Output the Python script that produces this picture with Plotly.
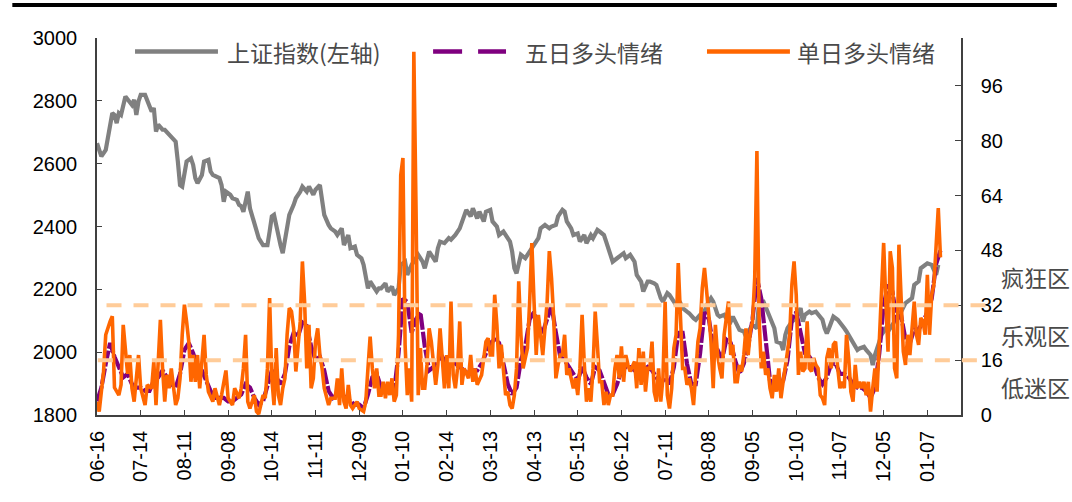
import plotly.graph_objects as go

# ---------------- data ----------------
# x-axis labels (one label every 20 trading days) and their trading-day index
tick_labels = ["06-16", "07-14", "08-11", "09-08", "10-14", "11-11", "12-09", "01-10",
               "02-14", "03-13", "04-13", "05-15", "06-12", "07-11", "08-08", "09-05",
               "10-10", "11-07", "12-05", "01-07"]
tick_days = [0, 20, 40, 60, 80, 100, 120, 140, 160, 180, 200, 220, 240, 260, 280, 300,
             320, 340, 360, 380]

# 上证指数 (left axis): trading-day index, close
index_day = [0, 2, 4, 5, 6, 7, 8, 9, 10, 11, 13, 14, 16, 17, 18, 19, 20, 22, 23, 25, 26, 27, 28,
             30, 31, 33, 34, 36, 37, 38, 39, 40, 41, 43, 44, 45, 46, 48, 49, 51, 52, 53, 56, 57,
             58, 59, 61, 62, 64, 65, 66, 67, 68, 69, 70, 71, 72, 73, 74, 76, 78, 79, 80, 81, 82,
             83, 84, 85, 86, 87, 88, 90, 91, 93, 94, 96, 97, 99, 100, 102, 103, 104, 106, 107,
             109, 110, 112, 113, 115, 116, 118, 119, 121, 122, 124, 125, 126, 128, 129, 130, 132,
             133, 135, 136, 138, 139, 141, 142, 144, 145, 147, 149, 150, 152, 153, 155, 156, 157,
             159, 161, 162, 164, 166, 168, 169, 171, 172, 174, 175, 177, 178, 180, 181, 183, 184,
             186, 187, 189, 190, 191, 192, 193, 194, 196, 197, 199, 200, 202, 203, 205, 207, 208,
             210, 211, 213, 214, 215, 217, 218, 220, 221, 223, 224, 226, 227, 229, 230, 232, 233,
             235, 236, 238, 239, 241, 242, 244, 246, 247, 249, 250, 252, 253, 255, 256, 258, 259,
             261, 262, 264, 265, 267, 268, 270, 271, 273, 274, 276, 278, 279, 281, 282, 284, 285,
             287, 288, 290, 291, 293, 294, 296, 297, 299, 300, 302, 303, 305, 307, 308, 310, 311,
             313, 314, 315, 316, 318, 320, 322, 323, 324, 326, 327, 329, 330, 332, 333, 334, 335,
             337, 339, 340, 342, 343, 345, 346, 348, 349, 351, 352, 354, 355, 356, 358, 359, 361,
             362, 364, 365, 367, 368, 370, 371, 373, 374, 376, 377, 379, 380, 382, 384, 385]
index_val = [2665, 2623, 2644, 2681, 2734, 2761, 2755, 2729, 2761, 2755, 2814, 2803, 2787, 2803,
             2755, 2798, 2819, 2819, 2803, 2766, 2777, 2702, 2724, 2708, 2708, 2692, 2686, 2670,
             2607, 2532, 2527, 2575, 2607, 2617, 2596, 2554, 2538, 2564, 2607, 2612, 2575, 2564,
             2554, 2532, 2479, 2511, 2501, 2490, 2485, 2469, 2465, 2447, 2479, 2511, 2458, 2432,
             2416, 2384, 2363, 2341, 2341, 2384, 2432, 2437, 2400, 2373, 2340, 2315, 2363, 2405,
             2437, 2469, 2490, 2511, 2527, 2511, 2527, 2501, 2517, 2532, 2485, 2437, 2405, 2394,
             2384, 2373, 2394, 2341, 2373, 2331, 2336, 2310, 2299, 2278, 2203, 2225, 2214, 2193,
             2203, 2203, 2219, 2193, 2209, 2182, 2203, 2278, 2288, 2246, 2278, 2288, 2310, 2288,
             2267, 2320, 2310, 2288, 2331, 2352, 2347, 2363, 2358, 2373, 2394, 2437, 2453, 2432,
             2458, 2426, 2447, 2416, 2447, 2453, 2416, 2400, 2373, 2384, 2373, 2352, 2320, 2267,
             2251, 2288, 2310, 2299, 2310, 2331, 2341, 2363, 2394, 2405, 2394, 2400, 2405, 2432,
             2453, 2447, 2416, 2394, 2373, 2378, 2352, 2373, 2347, 2373, 2363, 2389, 2384, 2373,
             2352, 2310, 2288, 2299, 2304, 2315, 2299, 2310, 2288, 2246, 2225, 2193, 2225, 2225,
             2219, 2214, 2172, 2161, 2188, 2182, 2161, 2150, 2156, 2140, 2129, 2124, 2108, 2103,
             2119, 2129, 2150, 2172, 2161, 2119, 2113, 2119, 2108, 2097, 2113, 2087, 2071, 2066,
             2049, 2076, 2087, 2076, 2161, 2161, 2129, 2108, 2076, 2033, 2028, 2007, 2055, 2076,
             2097, 2108, 2140, 2097, 2119, 2129, 2124, 2129, 2119, 2103, 2076, 2060, 2076, 2113,
             2103, 2092, 2076, 2066, 2044, 2033, 2007, 2012, 2017, 2007, 1991, 1959, 1991, 2033,
             2055, 2076, 2066, 2087, 2097, 2119, 2129, 2156, 2161, 2172, 2214, 2225, 2267, 2278,
             2283, 2278, 2246, 2278]

# 五日多头情绪 (right axis)
five_day = [0, 2, 4, 6, 8, 10, 12, 14, 16, 18, 20, 22, 24, 26, 28, 30, 32, 34, 36, 38, 40, 42, 44,
            46, 48, 50, 52, 54, 56, 58, 60, 62, 64, 66, 68, 70, 72, 74, 76, 78, 80, 82, 84, 86,
            88, 90, 92, 94, 96, 98, 100, 102, 104, 106, 108, 110, 112, 114, 116, 118, 120, 122,
            124, 126, 128, 130, 132, 134, 136, 138, 140, 142, 144, 146, 148, 150, 152, 154, 156,
            158, 160, 162, 164, 166, 168, 170, 172, 174, 176, 178, 180, 182, 184, 186, 188, 190,
            192, 194, 196, 198, 200, 202, 204, 206, 208, 210, 212, 214, 216, 218, 220, 222, 224,
            226, 228, 230, 232, 234, 236, 238, 240, 242, 244, 246, 248, 250, 252, 254, 256, 258,
            260, 262, 264, 266, 268, 270, 272, 274, 276, 278, 280, 282, 284, 286, 288, 290, 292,
            294, 296, 298, 300, 302, 304, 306, 308, 310, 312, 314, 316, 318, 320, 322, 324, 326,
            328, 330, 332, 334, 336, 338, 340, 342, 344, 346, 348, 350, 352, 354, 356, 358, 360,
            362, 364, 366, 368, 370, 372, 374, 376, 378, 380, 382, 384, 386]
five_val = [4, 8, 15, 21, 17, 14, 11, 12, 9, 8, 8, 7, 7, 10, 11, 13, 11, 9, 8, 12, 19, 21, 18, 14,
            13, 10, 7, 5, 5, 5, 4, 4, 5, 6, 9, 8, 5, 3, 4, 8, 13, 11, 9, 12, 20, 24, 23, 27, 26,
            20, 16, 17, 13, 7, 5, 6, 6, 5, 4, 3, 3, 2, 6, 11, 12, 8, 7, 7, 7, 18, 34, 33, 24, 28,
            30, 20, 13, 14, 16, 17, 15, 16, 15, 14, 13, 12, 13, 13, 15, 18, 21, 22, 21, 15, 9, 6,
            8, 16, 20, 28, 30, 26, 24, 28, 32, 24, 17, 16, 14, 12, 10, 14, 11, 9, 14, 13, 9, 6, 6,
            9, 13, 14, 14, 13, 14, 13, 14, 13, 11, 9, 11, 9, 14, 24, 24, 15, 9, 9, 18, 30, 28, 20,
            19, 16, 22, 21, 16, 12, 15, 20, 28, 40, 34, 22, 10, 8, 9, 10, 16, 28, 30, 24, 18, 17,
            15, 11, 9, 11, 15, 15, 12, 12, 11, 9, 8, 8, 7, 5, 8, 18, 32, 38, 36, 28, 29, 22, 21,
            25, 25, 27, 30, 34, 44, 48]

# 单日多头情绪 (right axis)
single_day = [0, 1, 3, 4, 6, 7, 8, 10, 11, 12, 14, 15, 16, 17, 19, 20, 22, 23, 25, 26, 27, 28,
              29, 30, 31, 32, 33, 34, 36, 37, 38, 39, 40, 41, 42, 43, 44, 45, 46, 47, 48, 49, 50,
              51, 53, 54, 56, 57, 59, 60, 62, 63, 65, 66, 67, 68, 69, 70, 72, 73, 74, 76, 77, 78,
              79, 80, 81, 82, 83, 84, 85, 86, 87, 88, 89, 90, 91, 92, 93, 94, 95, 96, 97, 98, 99,
              100, 101, 102, 103, 104, 106, 107, 109, 110, 111, 112, 113, 114, 115, 116, 117, 119,
              120, 122, 123, 124, 125, 126, 127, 128, 129, 130, 131, 132, 133, 134, 135, 136, 137,
              138, 139, 140, 141, 142, 143, 144, 145, 146, 147, 148, 149, 150, 151, 152, 153, 155,
              156, 157, 158, 159, 160, 161, 162, 163, 164, 165, 166, 167, 168, 170, 171, 172, 173,
              174, 176, 177, 178, 179, 180, 181, 182, 183, 184, 185, 186, 187, 188, 189, 190, 191,
              192, 193, 194, 195, 196, 197, 198, 199, 200, 201, 202, 203, 204, 205, 206, 207, 208,
              209, 210, 211, 212, 213, 214, 215, 216, 217, 218, 219, 220, 221, 222, 223, 224, 225,
              226, 227, 228, 229, 230, 231, 232, 233, 234, 235, 236, 237, 238, 239, 240, 241, 242,
              243, 244, 246, 247, 248, 249, 250, 251, 252, 253, 254, 255, 256, 257, 258, 259, 260,
              261, 262, 263, 264, 265, 266, 267, 268, 269, 270, 271, 272, 273, 274, 275, 276, 277,
              278, 279, 280, 281, 282, 283, 284, 285, 286, 287, 288, 289, 290, 291, 292, 293, 294,
              295, 296, 297, 298, 299, 300, 301, 302, 303, 304, 305, 306, 307, 308, 309, 310, 311,
              312, 313, 314, 315, 316, 317, 318, 319, 320, 321, 322, 323, 324, 325, 326, 327, 328,
              329, 330, 331, 332, 333, 334, 335, 336, 337, 338, 339, 340, 341, 342, 343, 344, 345,
              346, 347, 348, 349, 350, 351, 352, 353, 354, 355, 356, 357, 358, 359, 360, 361, 362,
              363, 364, 365, 366, 367, 368, 369, 370, 371, 372, 373, 374, 375, 376, 377, 378, 379,
              380, 381, 382, 383, 384, 385, 386]
single_val = [3.9, 1, 12.7, 23.4, 27.3, 28.8, 8, 5.8, 8.8, 26.3, 12, 17.5, 7.8, 3.9, 17.5, 7.8,
              2.9, 8.8, 7.8, 15.6, 2.9, 18.5, 27.8, 13.6, 3.9, 11.7, 7.8, 13.6, 2.9, 4.9, 10.7,
              23.4, 32.2, 27.3, 21.4, 9.7, 17.5, 9.7, 17.5, 7.8, 15.6, 23.4, 11.7, 6.8, 3.9, 7.8,
              2.9, 5.8, 13, 4.9, 2.9, 7.8, 4.9, 7.8, 13.6, 23.4, 3.9, 1.9, 5.8, 1, 0.3, 5.8, 4.9,
              13.6, 34.1, 10.7, 2.9, 19.5, 5.8, 2.9, 7.8, 10.7, 23.4, 31.2, 30.2, 25.3, 12.7, 20.5,
              27.3, 44.8, 33.1, 13.6, 26.3, 7.8, 10.7, 21.4, 25.3, 17.5, 13.6, 7.8, 2.9, 4.9, 4.9,
              10.7, 2.9, 13.6, 3.9, 1.9, 8.8, 2.9, 1.9, 3.9, 1.9, 1, 3.9, 13.6, 22.9, 13.6, 7.8,
              13.6, 5.8, 5.8, 9.7, 4.9, 9.7, 5.8, 10.7, 3.9, 5.8, 23.4, 70, 75, 20.5, 5.8, 13.6,
              3.9, 106, 60, 5.8, 19.5, 7.8, 7.8, 14.6, 25.3, 21.4, 8.8, 14.6, 25.3, 17.5, 7.8,
              17.5, 7.8, 33.1, 11.7, 7.8, 13.6, 27.3, 8.8, 13.6, 10.7, 17.5, 9.7, 13.6, 8.8, 11.7,
              16.6, 21.4, 22.4, 17.5, 17.5, 35.1, 26.3, 13.6, 20.5, 12.7, 5.8, 6.8, 2.9, 1.9, 5.8,
              13.6, 39, 23.4, 13.6, 16.6, 19.5, 33.1, 50.2, 33.1, 17.5, 29.2, 23.4, 17.5, 25.3,
              33.1, 47.8, 40, 28.3, 10.7, 14.6, 17.5, 17.5, 23.4, 11.7, 13.6, 10.7, 7.8, 10.7, 5.8,
              13.6, 29.2, 15, 3.9, 7.8, 3.9, 13.6, 30.2, 20.5, 9.7, 9.7, 2.9, 6.8, 2.9, 5.8, 5.8,
              13.6, 17.5, 10.7, 20, 9.7, 17.5, 14.6, 12.7, 15.6, 7.8, 19.5, 8.8, 18.5, 6.8, 13.6,
              13.6, 21.4, 6.8, 3.9, 13.6, 3.9, 10.7, 33, 5.8, 1.9, 7.8, 19.5, 23.4, 44.3, 28.3,
              13.6, 13.6, 8.8, 10.7, 7.8, 2.9, 13.6, 21.4, 25.3, 37, 42.9, 37, 29.2, 21.4, 7.8,
              26.3, 17.5, 13.6, 10.7, 23.4, 28.3, 33.1, 17.5, 20.5, 9.7, 9.7, 14.6, 12.7, 17.5,
              25.3, 17.5, 24.4, 27.3, 40, 77, 28.3, 13.6, 18.5, 11.7, 13.6, 7.8, 4.9, 11.7, 6.8,
              13.6, 4.9, 9.7, 13.6, 18.5, 23.4, 38, 44.8, 35, 11.7, 18.5, 12.7, 13.6, 27.3, 13.6,
              12.7, 16.6, 14.6, 13.6, 5.8, 4.9, 2.9, 16.6, 19.5, 13.6, 20.5, 21.4, 13.6, 7.8, 9.7,
              7.8, 23.4, 16.6, 6.8, 3.9, 14.6, 7.8, 9.7, 7.8, 9.7, 5.8, 9.7, 1, 7.8, 13.6, 6.8,
              23.4, 38, 50.2, 33.1, 18.5, 47.8, 42.9, 13.6, 10.7, 49.7, 33.1, 18.5, 14.6, 23.4,
              17.5, 25.3, 33.1, 23.4, 20.5, 28.3, 27.3, 23.4, 40.9, 23.4, 35.1, 38, 50.7, 60.4, 46]

zone_levels = [32, 16]
zone_names = ["疯狂区", "乐观区", "低迷区"]
zone_label_y = [40.4, 23.3, 8.3]
series_names = ["上证指数(左轴)", "五日多头情绪", "单日多头情绪"]

# ---------------- styles ----------------
GRAY = "#808080"
PURPLE = "#7F007F"
ORANGE = "#FF6600"
PEACH = "#FFCC99"
AXIS = "#404040"
NUM_FONT = dict(family="Liberation Sans, Arial, sans-serif", size=20, color="black")
CJK_FONT = dict(family="Noto Sans CJK SC, sans-serif", size=23, color="#4a4a4a")

fig = go.Figure()
fig.add_trace(go.Scatter(x=index_day, y=index_val, mode="lines", name=series_names[0],
                         line=dict(color=GRAY, width=4.2), yaxis="y"))
fig.add_trace(go.Scatter(x=five_day, y=five_val, mode="lines", name=series_names[1],
                         line=dict(color=PURPLE, width=4.2, dash="16px,2px"), yaxis="y2"))
fig.add_trace(go.Scatter(x=single_day, y=single_val, mode="lines", name=series_names[2],
                         line=dict(color=ORANGE, width=3.6), yaxis="y2"))

shapes = []
# top rule
shapes.append(dict(type="line", xref="paper", yref="paper", x0=-0.098, x1=1.111,
                   y0=1.0875, y1=1.0875, line=dict(color="black", width=4)))
# zone threshold lines
zone_x = [(0.011, 1.034), (0.001, 1.020)]
for lvl, (xa, xb) in zip(zone_levels, zone_x):
    shapes.append(dict(type="line", xref="paper", yref="y2", x0=xa, x1=xb, y0=lvl, y1=lvl,
                       layer="above", line=dict(color=PEACH, width=4, dash="15px,12px")))
# manual legend symbols
LEG_Y = 0.964
shapes.append(dict(type="line", xref="paper", yref="paper", x0=0.044, x1=0.140, y0=LEG_Y, y1=LEG_Y,
                   line=dict(color=GRAY, width=4.5)))
shapes.append(dict(type="line", xref="paper", yref="paper", x0=0.389, x1=0.4734, y0=LEG_Y, y1=LEG_Y,
                   line=dict(color=PURPLE, width=4.5, dash="29px,16px")))
shapes.append(dict(type="line", xref="paper", yref="paper", x0=0.706, x1=0.802, y0=LEG_Y, y1=LEG_Y,
                   line=dict(color=ORANGE, width=4.5)))

annotations = []
for name, xp in zip(series_names, [0.148, 0.493, 0.808]):
    annotations.append(dict(text=name, xref="paper", yref="paper", x=xp, y=LEG_Y,
                            xanchor="left", yanchor="middle", showarrow=False, font=CJK_FONT))
for name, yv in zip(zone_names, zone_label_y):
    annotations.append(dict(text=name, xref="paper", yref="y2", x=1.0868, y=yv,
                            xanchor="center", yanchor="middle", showarrow=False, font=CJK_FONT))

fig.update_layout(
    width=1072, height=502,
    margin=dict(l=97, r=111, t=38, b=87),
    paper_bgcolor="white", plot_bgcolor="white",
    showlegend=False,
    shapes=shapes, annotations=annotations,
    xaxis=dict(range=[0, 395.4], tickmode="array", tickvals=tick_days, ticktext=tick_labels,
               tickangle=-90, ticks="inside", ticklen=5, tickcolor=AXIS, tickwidth=1.2,
               showline=True, linecolor=AXIS, linewidth=1.5, showgrid=False, zeroline=False,
               tickfont=NUM_FONT, ticklabelstandoff=6),
    yaxis=dict(range=[1800, 3000], dtick=200, tick0=1800, ticks="inside", ticklen=5,
               tickcolor=AXIS, tickwidth=1.2, showline=True, linecolor=AXIS, linewidth=1.5,
               showgrid=False, zeroline=False, tickfont=NUM_FONT, ticklabelstandoff=14),
    yaxis2=dict(range=[0, 110], tickmode="array", tickvals=[0, 16, 32, 48, 64, 80, 96],
                overlaying="y", side="right", ticks="inside", ticklen=6, tickcolor=AXIS,
                tickwidth=1.2, showline=True, linecolor=AXIS, linewidth=1.5, showgrid=False,
                zeroline=False, tickfont=NUM_FONT, ticklabelstandoff=14),
)

fig.write_html("out.html", config={"displayModeBar": False},
               post_script="document.body.style.margin='0';")
